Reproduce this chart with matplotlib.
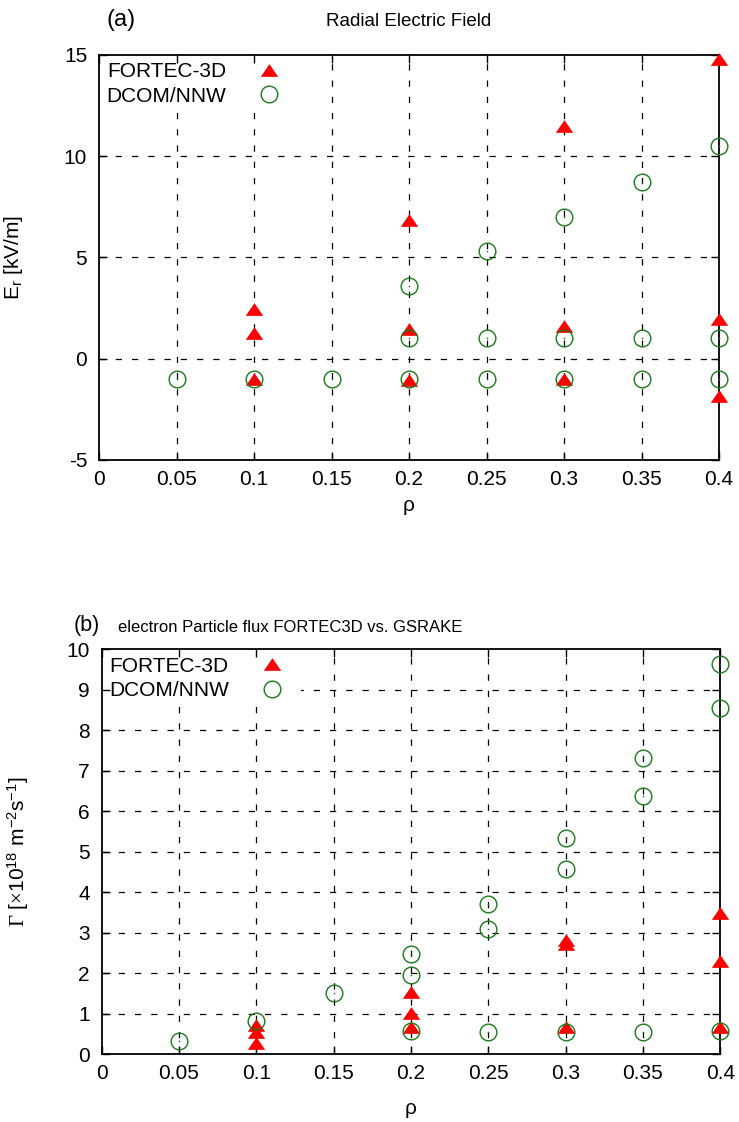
import matplotlib
matplotlib.use("Agg")
import matplotlib.pyplot as plt
import numpy as np

plt.rcParams['font.family'] = ['Liberation Sans', 'DejaVu Sans']
plt.rcParams['mathtext.fontset'] = 'custom'
plt.rcParams['mathtext.rm'] = 'Liberation Sans'
plt.rcParams['mathtext.it'] = 'Liberation Sans:italic'
plt.rcParams['mathtext.sf'] = 'Liberation Serif'
plt.rcParams['axes.unicode_minus'] = False

# ---- panel (a): radial electric field ----
rho_fortec_a = [0.1, 0.1, 0.1, 0.2, 0.2, 0.2, 0.3, 0.3, 0.3, 0.4, 0.4, 0.4]
er_fortec = [2.45, 1.25, -1.0, 6.85, 1.45, -1.05, 11.5, 1.6, -1.0, 14.8, 1.95, -1.85]

rho_dcom_a = [0.05, 0.1, 0.15, 0.2, 0.2, 0.2, 0.25, 0.25, 0.25,
              0.3, 0.3, 0.3, 0.35, 0.35, 0.35, 0.4, 0.4, 0.4]
er_dcom = [-1.0, -1.0, -1.0, 3.6, 1.0, -1.0, 5.3, 1.0, -1.0,
           7.0, 1.0, -1.0, 8.75, 1.0, -1.0, 10.5, 1.0, -1.0]

# ---- panel (b): electron particle flux ----
rho_fortec_b = [0.1, 0.1, 0.1, 0.2, 0.2, 0.2, 0.3, 0.3, 0.3, 0.4, 0.4, 0.4]
flux_fortec = [0.72, 0.56, 0.28, 1.55, 1.03, 0.68, 2.82, 2.72, 0.68, 3.48, 2.31, 0.67]

rho_dcom_b = [0.05, 0.1, 0.15, 0.2, 0.2, 0.2, 0.25, 0.25, 0.25,
              0.3, 0.3, 0.3, 0.35, 0.35, 0.35, 0.4, 0.4, 0.4]
flux_dcom = [0.32, 0.82, 1.52, 2.47, 1.97, 0.57, 3.72, 3.09, 0.55,
             5.33, 4.57, 0.54, 7.32, 6.39, 0.55, 9.63, 8.54, 0.58]

x_ticks = [0, 0.05, 0.1, 0.15, 0.2, 0.25, 0.3, 0.35, 0.4]
x_ticklabels = ['0', '0.05', '0.1', '0.15', '0.2', '0.25', '0.3', '0.35', '0.4']
ya_ticks = [-5, 0, 5, 10, 15]
yb_ticks = list(range(0, 11))

RED = '#ff0000'
GREEN = '#1a7a1a'
TRI = [(0, 0.73), (-1, -0.73), (1, -0.73)]
GRID_STYLE = dict(color='black', linewidth=0.9, linestyle=(0, (5, 8)), zorder=0.5)

fig = plt.figure(figsize=(7.39, 11.22), dpi=100)
W, H = 739.0, 1122.0


def make_axes(l, r, t, b):
    return fig.add_axes([l / W, 1 - b / H, (r - l) / W, (b - t) / H])


def style(ax, yticks, ylim):
    ax.set_xlim(0, 0.4)
    ax.set_ylim(*ylim)
    ax.set_xticks(x_ticks)
    ax.set_xticklabels(x_ticklabels)
    ax.set_yticks(yticks)
    ax.tick_params(direction='in', length=6, width=1.0, labelsize=15,
                   top=True, right=True, pad=8.5)
    ax.tick_params(axis='x', pad=7)
    for s in ax.spines.values():
        s.set_linewidth(1.3)
    # dashed grid at every tick, kept beneath the key box and the ticks
    for xv in x_ticks[1:-1]:
        ax.axvline(xv, **GRID_STYLE)
    for yv in yticks[1:-1]:
        ax.axhline(yv, **GRID_STYLE)


def draw(ax, xf, yf, xd, yd):
    ax.plot(xf, yf, linestyle='none', marker=TRI, markersize=12.5,
            color=RED, markeredgewidth=0, clip_on=False, zorder=3,
            label='FORTEC-3D')
    ax.plot(xd, yd, linestyle='none', marker='o', markersize=12,
            markerfacecolor='none', markeredgecolor=GREEN,
            markeredgewidth=1.0, clip_on=False, zorder=4, label='DCOM/NNW')
    ax.plot(xd, yd, linestyle='none', marker='o', markersize=1.2,
            color=GREEN, markeredgewidth=0, clip_on=False, zorder=4)


def legend(ax, anchor):
    leg = ax.legend(loc='upper left', bbox_to_anchor=anchor, markerfirst=False,
                    fontsize=15, frameon=True, facecolor='white',
                    edgecolor='none', framealpha=1, fancybox=False,
                    borderpad=0.35, labelspacing=0.25, handlelength=2.1,
                    handletextpad=1.0, borderaxespad=0, numpoints=1)
    leg.set_zorder(1)
    return leg


# panel (a)
ax1 = make_axes(99, 719, 55, 460)
style(ax1, ya_ticks, (-5, 15))
draw(ax1, rho_fortec_a, er_fortec, rho_dcom_a, er_dcom)
legend(ax1, (0.0, 1.0))
ax1.set_xlabel('ρ', fontsize=15)
ax1.xaxis.label.set_va('baseline')
ax1.xaxis.set_label_coords(0.5, -0.125)
ax1.set_ylabel(r'E$_\mathrm{r}$ [kV/m]', fontsize=15)
ax1.yaxis.set_label_coords(-0.119, 0.5)
fig.text(107 / W, 1 - 20 / H, '(a)', fontsize=17, ha='left', va='center')
fig.text(409 / W, 1 - 22 / H, 'Radial Electric Field', fontsize=13.5,
         ha='center', va='center')

# panel (b)
ax2 = make_axes(101.7, 720.3, 649.3, 1054.3)
style(ax2, yb_ticks, (0, 10))
draw(ax2, rho_fortec_b, flux_fortec, rho_dcom_b, flux_dcom)
legend(ax2, (0.0, 1.0))
ax2.set_xlabel('ρ', fontsize=15)
ax2.xaxis.label.set_va('baseline')
ax2.xaxis.set_label_coords(0.5, -0.147)
ax2.set_ylabel(r'$\mathsf{\Gamma}$ [$\mathsf{\times}$10$^{18}$ m$^{-2}$s$^{-1}$]',
               fontsize=15)
ax2.yaxis.set_label_coords(-0.114, 0.5)
fig.text(87 / W, 1 - 626 / H, '(b)', fontsize=15.5, ha='center', va='center')
fig.text(290 / W, 1 - 627 / H, 'electron Particle flux FORTEC3D vs. GSRAKE',
         fontsize=12, ha='center', va='center')

fig.savefig('out.png', dpi=100)
